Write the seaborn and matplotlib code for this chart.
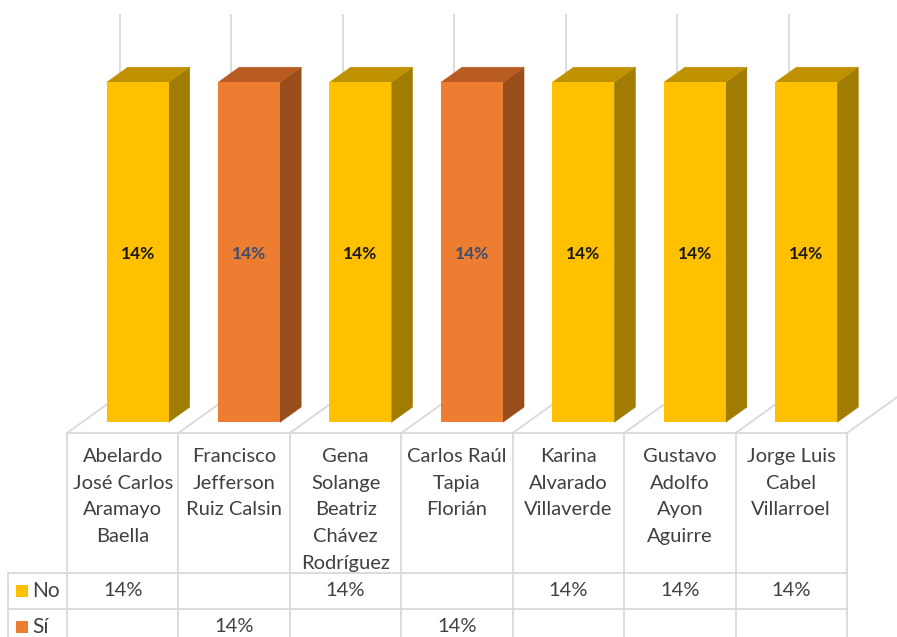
import numpy as np
import pandas as pd
import matplotlib
matplotlib.use("Agg")
import matplotlib.pyplot as plt
import seaborn as sns
from matplotlib.patches import Polygon, Rectangle

# ---- data -------------------------------------------------------------
names = [
    "Abelardo\nJosé Carlos\nAramayo\nBaella",
    "Francisco\nJefferson\nRuiz Calsin",
    "Gena\nSolange\nBeatriz\nChávez\nRodríguez",
    "Carlos Raúl\nTapia\nFlorián",
    "Karina\nAlvarado\nVillaverde",
    "Gustavo\nAdolfo\nAyon\nAguirre",
    "Jorge Luis\nCabel\nVillarroel",
]
answers = ["No", "Sí", "No", "Sí", "No", "No", "No"]
shares = [14, 14, 14, 14, 14, 14, 14]          # percent
series = ["No", "Sí"]

df = pd.DataFrame({"name": names, "answer": answers, "share": shares})

# ---- styling ----------------------------------------------------------
sns.set_theme(style="white")
plt.rcParams["font.family"] = ["Lato", "DejaVu Sans"]

front = {"No": "#FFC000", "Sí": "#ED7D31"}
top_c = {"No": "#C09100", "Sí": "#B95C22"}
side_c = {"No": "#A07D00", "Sí": "#9A4E1C"}
label_c = {"No": "#1A1A1A", "Sí": "#3E4F6E"}
grid_c = "#D9D9D9"
text_c = "#404040"

W, H = 897, 637
fig = plt.figure(figsize=(W / 100, H / 100), dpi=100)
ax = fig.add_axes([0, 0, 1, 1])

# pixel layout of the plot box
col_left, col_w = 67, 111.43       # table / category columns
floor_px = 433                     # front edge of the floor
px_per_pct = 340 / 14              # vertical scale
wall_top_px = 14
depth = (53, 38)                   # oblique depth of the floor (px)
bar_front, bar_back = 0.28, 0.68   # bar position inside the depth
bar_w = 62 / col_w


def X(px):
    return -0.5 + (px - col_left) / col_w


def Y(px):
    return (floor_px - px) / px_per_pct


def dx(px):
    return px / col_w


def dy(px):
    return px / px_per_pct


# ---- front faces via seaborn -----------------------------------------
sns.barplot(data=df, x="name", y="share", hue="answer", hue_order=series,
            order=names, palette=front, saturation=1, dodge=False,
            width=bar_w, legend=False, ax=ax, linewidth=0, zorder=3)
ax.set_xlim(X(0), X(W))
ax.set_ylim(Y(H), Y(0))
ax.axis("off")

n = len(names)
Dx, Dy = dx(depth[0]), dy(depth[1])

# back-wall gridlines and floor edges
for b in np.arange(n + 1) - 0.5:
    ax.plot([b + Dx, b + Dx], [Dy, Y(wall_top_px)], color=grid_c, lw=1.3,
            zorder=0, solid_capstyle="butt")
    ax.plot([b, b + Dx], [0, Dy], color=grid_c, lw=1.3, zorder=0)

# ---- 3D shading for each bar -----------------------------------------
ox0, oy0 = bar_front * Dx, bar_front * Dy
ddx, ddy = (bar_back - bar_front) * Dx, (bar_back - bar_front) * Dy
for p in list(ax.patches):
    if p.get_height() == 0 or np.isnan(p.get_height()):
        continue
    p.set_x(p.get_x() + ox0)
    p.set_y(p.get_y() + oy0)
    x0, x1 = p.get_x(), p.get_x() + p.get_width()
    y0, y1 = p.get_y(), p.get_y() + p.get_height()
    xc = (x0 + x1) / 2
    i = int(round(xc - ox0))
    key = answers[i]
    side = Polygon([(x1, y0), (x1 + ddx, y0 + ddy), (x1 + ddx, y1 + ddy), (x1, y1)],
                   closed=True, facecolor=side_c[key], edgecolor=side_c[key],
                   lw=0.3, zorder=2)
    top = Polygon([(x0, y1), (x1, y1), (x1 + ddx, y1 + ddy), (x0 + ddx, y1 + ddy)],
                  closed=True, facecolor=top_c[key], edgecolor=top_c[key],
                  lw=0.3, zorder=2)
    ax.add_patch(side)
    ax.add_patch(top)
    ax.text(xc, (y0 + y1) / 2 - dy(2), f"{shares[i]:.0f}%", ha="center",
            va="center", fontsize=12.5, fontweight="bold",
            color=label_c[key], zorder=5)

# ---- data table -------------------------------------------------------
row_px = [433, 573, 609, 645]
left_px = 8
lw_t = 1.3
right = n - 0.5
ax.plot([-0.5, right], [Y(row_px[0])] * 2, color=grid_c, lw=lw_t, zorder=1)
for r in row_px[1:]:
    ax.plot([X(left_px), right], [Y(r)] * 2, color=grid_c, lw=lw_t, zorder=1)
for b in np.arange(n + 1) - 0.5:
    ax.plot([b, b], [Y(row_px[0]), Y(H + 5)], color=grid_c, lw=lw_t, zorder=1)
ax.plot([X(left_px)] * 2, [Y(row_px[1]), Y(H + 5)], color=grid_c, lw=lw_t, zorder=1)

for i, nm in enumerate(names):
    ax.text(i, Y(448), nm, ha="center", va="top", fontsize=14.5,
            color=text_c, linespacing=1.69)

for k, s in enumerate(series):
    yc = Y((row_px[k + 1] + row_px[k + 2]) / 2)
    sq = Rectangle((X(16), yc - dy(6)), dx(12), dy(12), facecolor=front[s],
                   edgecolor="none", zorder=2)
    ax.add_patch(sq)
    ax.text(X(32), yc, s, ha="left", va="center", fontsize=15, color=text_c)
    for i, a in enumerate(answers):
        if a == s:
            ax.text(i, yc, f"{shares[i]:.0f}%", ha="center", va="center",
                    fontsize=14.5, color=text_c)

fig.savefig("out.png", dpi=100, facecolor="white")
